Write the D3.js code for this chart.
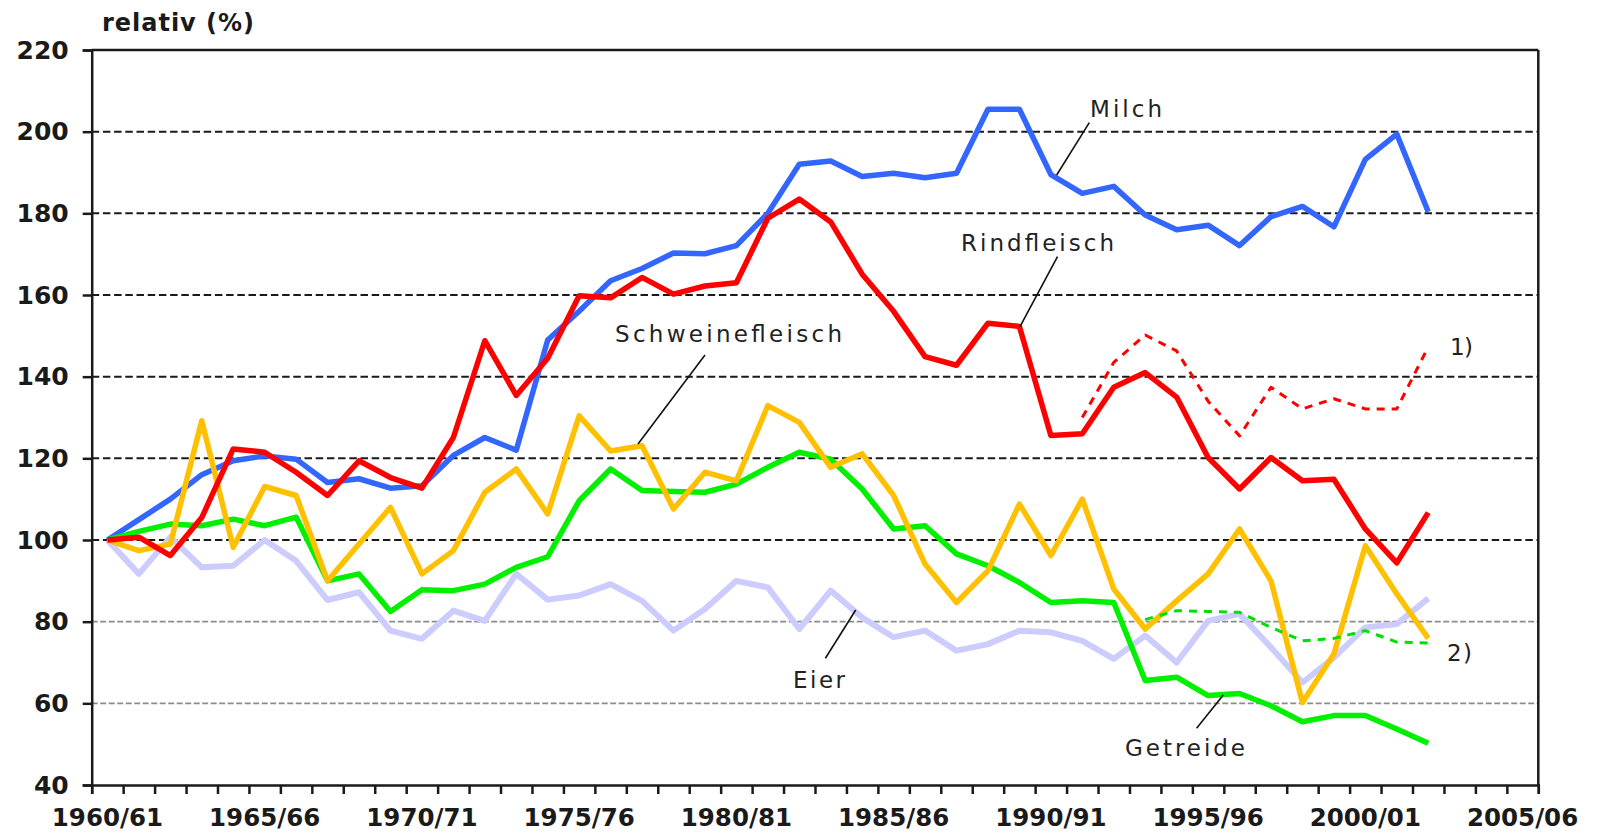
<!DOCTYPE html>
<html><head><meta charset="utf-8">
<script src="https://cdn.jsdelivr.net/npm/d3@7"></script>
<style>
html,body{margin:0;padding:0;background:#fff;}
svg{display:block;}
</style></head><body>
<svg id="chart" width="1598" height="839"></svg>
<script>
// ---------- data ----------
const categories = ["1960/61","1961/62","1962/63","1963/64","1964/65","1965/66","1966/67","1967/68","1968/69","1969/70",
  "1970/71","1971/72","1972/73","1973/74","1974/75","1975/76","1976/77","1977/78","1978/79","1979/80",
  "1980/81","1981/82","1982/83","1983/84","1984/85","1985/86","1986/87","1987/88","1988/89","1989/90",
  "1990/91","1991/92","1992/93","1993/94","1994/95","1995/96","1996/97","1997/98","1998/99","1999/00",
  "2000/01","2001/02","2002/03","2003/04","2004/05","2005/06"];
const tickLabels = ["1960/61","1965/66","1970/71","1975/76","1980/81","1985/86","1990/91","1995/96","2000/01","2005/06"];
const yTicks = [40,60,80,100,120,140,160,180,200,220];

const milch = [100,105,110,116,119.4,120.6,119.8,114.1,115,112.7,113.3,120.7,125.1,122,149,156,163.5,166.5,170.3,170.1,
  172.1,180,192,192.8,189,189.8,188.7,189.8,205.5,205.5,189.5,184.9,186.6,179.6,176,177.1,172.1,179.2,181.7,176.7,
  193.2,199.4,180.4];
const rindfleisch = [100,100.7,96.2,105.5,122.3,121.5,116.6,110.9,119.4,115.3,112.7,125.1,148.8,135.4,144.5,159.8,159.3,164.3,160.2,162.2,
  163,178.8,183.5,177.9,165.1,156,144.9,142.8,153.1,152.3,125.6,126,137.4,141,135,120.2,112.5,120.2,114.5,114.9,
  102.7,94.4,106.7];
const schweinefleisch = [100,97.4,99,129.2,98.2,113.1,110.9,90,99,108,91.7,97.4,111.7,117.4,106.4,130.4,121.8,123.1,107.6,116.6,
  114.5,132.9,128.8,117.8,121.1,110.9,94.1,84.7,92.5,108.8,96.2,110,88,78.2,85.1,91.7,102.7,90,60.2,72.1,
  98.6,86.8,75.9];
const getreide = [100,102.1,103.9,103.5,105.1,103.5,105.6,90,91.7,82.5,87.8,87.6,89.2,93.3,95.9,109.6,117.4,112.1,111.9,111.7,
  113.7,117.8,121.5,119.8,112.5,102.7,103.5,96.6,93.7,89.6,84.7,85.1,84.7,65.6,66.4,61.9,62.4,59.4,55.5,57,
  57,53.7,50.2];
const eier = [100,91.7,100.7,93.3,93.7,100,94.9,85.3,87.2,77.8,75.8,82.7,80.2,91.7,85.4,86.4,89.2,85.1,77.8,83.1,
  90,88.4,78.2,87.6,81,76.2,77.8,72.9,74.5,77.8,77.4,75.3,70.9,76.6,70,80.2,81.9,73.7,65.1,71.2,
  78.6,79.4,85.7];
// footnote series 1) and 2)
const rindfleischAltStart = "1991/92";
const rindfleischAlt = [130,143.5,150.2,146.3,134,125.5,137.4,132.1,134.6,132.1,132.1,147.3];
const getreideAltStart = "1993/94";
const getreideAlt = [80.5,82.7,82.5,82.3,78.6,75.3,75.9,77.8,75,74.8];

// ---------- layout ----------
const svg = d3.select("#chart");
svg.append("rect").attr("width",1598).attr("height",839).attr("fill","#fff");
const L = 91.7, R = 1538.3, T = 50, B = 785;
const x = d3.scaleBand().domain(categories).range([L, R]).padding(0);
const y = d3.scaleLinear().domain([40, 220]).range([B, T]);
const xi = d3.scaleLinear().domain([0, categories.length]).range([L, R]);
const cx = c => x(c) + x.bandwidth() / 2;

// gridlines
const grid = svg.append("g");
yTicks.filter(v => v > 40).forEach(v => {
  const ln = grid.append("line").attr("x1", L).attr("x2", R).attr("y1", y(v)).attr("y2", y(v));
  if (v === 220) ln.attr("stroke", "#1a1a1a").attr("stroke-width", 2.5);
  else if (v >= 100) ln.attr("stroke", "#1a1a1a").attr("stroke-width", 2).attr("stroke-dasharray", "7.5,3.7");
  else ln.attr("stroke", "#8c8c8c").attr("stroke-width", 1.8).attr("stroke-dasharray", "6,2.5");
});
// right frame
svg.append("line").attr("x1", R).attr("x2", R).attr("y1", T).attr("y2", B)
  .attr("stroke", "#1a1a1a").attr("stroke-width", 2.5);

// y axis
const yAxis = svg.append("g").attr("transform", `translate(${L},0)`)
  .call(d3.axisLeft(y).tickValues(yTicks).tickSize(9).tickPadding(14).tickFormat(d3.format("d")));
yAxis.select(".domain").attr("stroke", "#1a1a1a").attr("stroke-width", 2.5);
yAxis.selectAll(".tick line").attr("stroke", "#1a1a1a").attr("stroke-width", 2.5);
yAxis.selectAll("text").attr("font-family", "DejaVu Sans").attr("font-weight", "bold")
  .attr("font-size", 25).attr("fill", "#1a1a1a");

// x axis: boundary ticks
const xTickAxis = svg.append("g").attr("transform", `translate(0,${B})`)
  .call(d3.axisBottom(xi).tickValues(d3.range(0, categories.length + 1)).tickSize(9).tickFormat(""));
xTickAxis.select(".domain").attr("stroke", "#1a1a1a").attr("stroke-width", 2.5);
xTickAxis.selectAll(".tick line").attr("stroke", "#1a1a1a").attr("stroke-width", 2.5);
// x axis: labels
const xLab = svg.append("g").attr("transform", `translate(0,${B})`)
  .call(d3.axisBottom(x).tickValues(tickLabels).tickSize(0).tickPadding(24));
xLab.select(".domain").remove();
xLab.selectAll("text").attr("font-family", "DejaVu Sans").attr("font-weight", "bold")
  .attr("font-size", 24.5).attr("fill", "#1a1a1a");

// axis title
svg.append("text").attr("x", 102).attr("y", 31).text("relativ (%)")
  .attr("font-family", "DejaVu Sans").attr("font-weight", "bold").attr("font-size", 24)
  .attr("textLength", 152).attr("fill", "#1a1a1a");

// ---------- lines ----------
const line = d3.line().x(d => cx(d.c)).y(d => y(d.v));
const toPts = (arr, start) => {
  const s = categories.indexOf(start);
  return arr.map((v, i) => ({ c: categories[s + i], v }));
};
const series = [
  { data: eier, color: "#ccccff", w: 6 },
  { data: milch, color: "#3366ff", w: 5.5 },
  { data: getreide, color: "#00f000", w: 5.5 },
  { data: schweinefleisch, color: "#ffc000", w: 5.5 },
  { data: rindfleisch, color: "#ff0000", w: 5.5 }
];
const lines = svg.append("g").attr("fill", "none").attr("stroke-linejoin", "round");
series.forEach(s => {
  lines.append("path").attr("d", line(toPts(s.data, categories[0])))
    .attr("stroke", s.color).attr("stroke-width", s.w);
});
lines.append("path").attr("d", line(toPts(rindfleischAlt, rindfleischAltStart)))
  .attr("stroke", "#ff0000").attr("stroke-width", 3).attr("stroke-dasharray", "8,7");
lines.append("path").attr("d", line(toPts(getreideAlt, getreideAltStart)))
  .attr("stroke", "#00e000").attr("stroke-width", 3).attr("stroke-dasharray", "8,7");

// ---------- annotations ----------
const labels = [
  { t: "Milch", x: 1090, y: 117, w: 72 },
  { t: "Rindfleisch", x: 961, y: 251, w: 153 },
  { t: "Schweinefleisch", x: 615, y: 342, w: 227 },
  { t: "Eier", x: 793, y: 688, w: 52 },
  { t: "Getreide", x: 1125, y: 756, w: 120 },
  { t: "1)", x: 1450, y: 355, w: 23 },
  { t: "2)", x: 1447, y: 661, w: 25 }
];
const ann = svg.append("g");
labels.forEach(l => {
  ann.append("text").attr("x", l.x).attr("y", l.y).text(l.t)
    .attr("font-family", "DejaVu Sans").attr("font-size", 23).attr("fill", "#222")
    .attr("textLength", l.w);
});
const leaders = [
  [1089.3, 122.7, 1056.7, 175],
  [1057.5, 256.7, 1020, 326.7],
  [705, 355, 638, 444],
  [855.7, 610, 825.4, 658.3],
  [1223.3, 695, 1196.6, 728.3]
];
leaders.forEach(p => {
  ann.append("line").attr("x1", p[0]).attr("y1", p[1]).attr("x2", p[2]).attr("y2", p[3])
    .attr("stroke", "#111").attr("stroke-width", 1.6);
});
</script>
</body></html>
